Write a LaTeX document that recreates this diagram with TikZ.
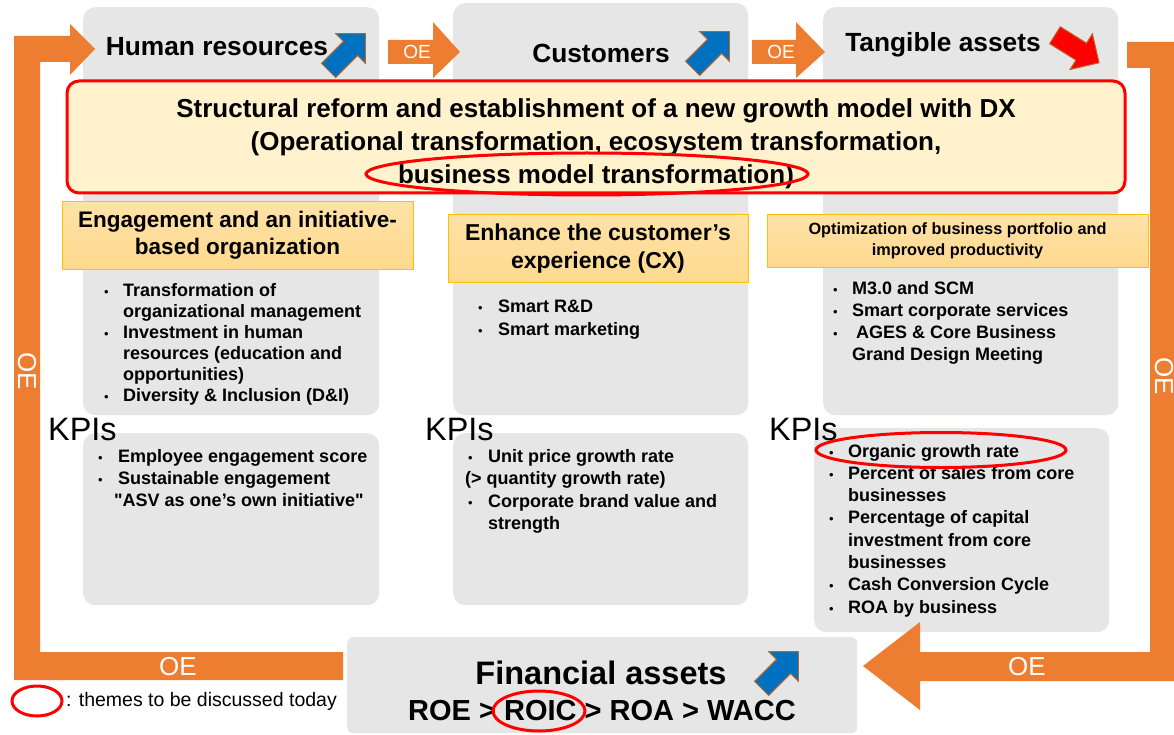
\documentclass[tikz,border=0pt]{standalone}
\usepackage{fontspec}
\setmainfont{Liberation Sans}
\usetikzlibrary{shapes.geometric}
\definecolor{oeorange}{HTML}{ED7D31}
\definecolor{panelgray}{HTML}{E6E6E6}
\definecolor{themebeige}{HTML}{FFF2CC}
\definecolor{headgold}{HTML}{FFC000}
\definecolor{headfill}{HTML}{FFD98E}
\definecolor{headtop}{HTML}{FFE2A8}
\definecolor{upblue}{HTML}{0070C0}
\definecolor{edgebrown}{HTML}{B8652A}
\definecolor{markred}{HTML}{FF0000}

\tikzset{
  panel/.style={fill=panelgray, rounded corners=12pt, draw=none, anchor=north west, inner sep=0pt},
  headbox/.style={draw=headgold, line width=1pt, top color=headtop, bottom color=headfill,
                  align=center, inner sep=0pt, font=\bfseries},
  title/.style={font=\bfseries\fontsize{26.3}{30}\selectfont, inner sep=0pt},
  kpi/.style={font=\fontsize{32.4}{32}\selectfont, anchor=base west, inner sep=0pt},
  blist/.style={anchor=base west, inner sep=0pt, align=left},
  oelabel/.style={text=white, font=\fontsize{19}{19}\selectfont, inner sep=0pt},
  ring/.style={ellipse, draw=markred, line width=3pt, inner sep=0pt},
  loop/.style={fill=oeorange, draw=none},
  blockarrow/.pic={\path[pic actions] (-26,-10) -- (5,-10) -- (5,-21) -- (26,0) -- (5,21) -- (5,10) -- (-26,10) -- cycle;},
}
% small light bullet for the lists
\newcommand{\bul}{{\mdseries\fontsize{13}{13}\selectfont\textbullet}}
% straight quotes, without the TeX quote mapping
\newcommand{\straightq}[1]{{\addfontfeatures{Ligatures=TeXOff}"#1"}}

\begin{document}
\begin{tikzpicture}[x=1pt,y=-1pt]
\useasboundingbox (0,0) rectangle (1174,735);
\fill[white] (0,0) rectangle (1174,735);

% grey panels of the three columns
\node[panel, minimum width=296pt, minimum height=408pt] (hrpanel) at (83,7) {};
\node[panel, minimum width=295pt, minimum height=412pt] (cxpanel) at (453,3) {};
\node[panel, minimum width=295pt, minimum height=408pt] (tapanel) at (823,7) {};
\node[panel, minimum width=296pt, minimum height=172pt] (hrkpi) at (83,433) {};
\node[panel, minimum width=295pt, minimum height=172pt] (cxkpi) at (453,433) {};
\node[panel, minimum width=295pt, minimum height=204pt] (takpi) at (814,428) {};
\node[panel, minimum width=510pt, minimum height=96pt, rounded corners=6pt] (finpanel) at (347,637) {};

% left feedback loop
\path[loop] (343,680) -- (14,680) -- (14,36) -- (70,36) -- (70,24) -- (95,49)
  -- (70,75) -- (70,62) -- (40,62) -- (40,652) -- (343,652) -- cycle;
% right feedback loop
\path[loop] (1127,42) -- (1174,42) -- (1174,681) -- (920,681) -- (920,710)
  -- (863,666) -- (920,622) -- (920,652) -- (1150,652) -- (1150,68) -- (1127,68) -- cycle;
% arrows between the columns
\path[loop] (388,40) -- (433,40) -- (433,22) -- (460,52) -- (433,78) -- (433,64) -- (388,64) -- cycle;
\path[loop] (752,40) -- (796,40) -- (796,22) -- (825,52) -- (796,78) -- (796,64) -- (752,64) -- cycle;

\node[oelabel] (oe1) at (417,52) {OE};
\node[oelabel] (oe2) at (781,52) {OE};
\node[oelabel, rotate=-90, font=\fontsize{26}{26}\selectfont] (oe3) at (27,371) {OE};
\node[oelabel, rotate=-90, font=\fontsize{26}{26}\selectfont] (oe4) at (1164,376) {OE};
\node[oelabel, font=\fontsize{26}{26}\selectfont] (oe5) at (178,667) {OE};
\node[oelabel, font=\fontsize{26}{26}\selectfont] (oe6) at (1027,667) {OE};

% column titles and trend arrows
\node[title] (hrtitle) at (217,47) {Human resources};
\node[title] (cxtitle) at (601,53) {Customers};
\node[title] (tatitle) at (943,45) {Tangible assets};
\pic[fill=upblue, draw=edgebrown, line width=1pt, rotate=45] at (347,52) {blockarrow};
\pic[fill=upblue, draw=edgebrown, line width=1pt, rotate=45] at (711,50) {blockarrow};
\pic[fill=markred, draw=edgebrown, line width=1pt, rotate=-32] at (1077,49) {blockarrow};

% common theme banner
\node[draw=markred, line width=3pt, fill=themebeige, rounded corners=12pt,
      minimum width=1058pt, minimum height=112pt, inner sep=0pt] (banner) at (596,137) {};
\node[font=\bfseries\fontsize{26}{33}\selectfont, align=center, inner sep=0pt] (bannertext) at (596,144)
  {Structural reform and establishment of a new growth model with DX\\
   (Operational transformation, ecosystem transformation,\\
   business model transformation)};
\node[ring, minimum width=442pt, minimum height=42pt] (ringbm) at (587,174) {};

% column headings
\node[headbox, minimum width=351pt, minimum height=67pt, font=\bfseries\fontsize{22.5}{27}\selectfont] (hrhead) at (237.5,235.5)
  {Engagement and an initiative-\\based organization};
\node[headbox, minimum width=300pt, minimum height=67pt, font=\bfseries\fontsize{23}{28}\selectfont] (cxhead) at (598,248.5)
  {Enhance the customer’s\\experience (CX)};
\node[headbox, minimum width=381pt, minimum height=52pt, font=\bfseries\fontsize{16.3}{21}\selectfont] (tahead) at (957.5,241)
  {Optimization of business portfolio and\\improved productivity};

% initiatives
\node[blist, font=\bfseries\fontsize{18}{21}\selectfont] (hrlist) at (104,296)
  {\begin{tabular}[t]{@{}p{19pt}@{}l@{}}
   \bul & Transformation of\\
        & organizational management\\
   \bul & Investment in human\\
        & resources (education and\\
        & opportunities)\\
   \bul & Diversity \& Inclusion (D\&I)
   \end{tabular}};
\node[blist, font=\bfseries\fontsize{18}{23}\selectfont] (cxlist) at (478,312)
  {\begin{tabular}[t]{@{}p{20pt}@{}l@{}}
   \bul & Smart R\&D\\
   \bul & Smart marketing
   \end{tabular}};
\node[blist, font=\bfseries\fontsize{18}{22.3}\selectfont] (talist) at (833,294)
  {\begin{tabular}[t]{@{}p{19pt}@{}l@{}}
   \bul & M3.0 and SCM\\
   \bul & Smart corporate services\\
   \bul & \hspace{4pt}AGES \& Core Business\\
        & Grand Design Meeting
   \end{tabular}};

% KPI panels
\node[kpi] (hrkpis) at (48,440) {KPIs};
\node[kpi] (cxkpis) at (425,440) {KPIs};
\node[kpi] (takpis) at (769,440) {KPIs};
\node[blist, font=\bfseries\fontsize{18}{22}\selectfont] (hrkpilist) at (98,462)
  {\begin{tabular}[t]{@{}p{20pt}@{}l@{}}
   \bul & Employee engagement score\\
   \bul & Sustainable engagement\\
   \multicolumn{2}{@{}l@{}}{\hspace{16pt}\straightq{ASV as one’s own initiative}}
   \end{tabular}};
\node[blist, font=\bfseries\fontsize{18}{22.5}\selectfont] (cxkpilist) at (468,462)
  {\begin{tabular}[t]{@{}p{20pt}@{}l@{}}
   \bul & Unit price growth rate\\
   \multicolumn{2}{@{}l@{}}{\hspace{-3pt}(> quantity growth rate)}\\
   \bul & Corporate brand value and\\
        & strength
   \end{tabular}};
\node[blist, font=\bfseries\fontsize{18}{22.3}\selectfont] (takpilist) at (829,457)
  {\begin{tabular}[t]{@{}p{19pt}@{}l@{}}
   \bul & Organic growth rate\\
   \bul & Percent of sales from core\\
        & businesses\\
   \bul & Percentage of capital\\
        & investment from core\\
        & businesses\\
   \bul & Cash Conversion Cycle\\
   \bul & ROA by business
   \end{tabular}};
\node[ring, minimum width=250pt, minimum height=35pt] (ringorg) at (941,450) {};

% financial assets
\node[font=\bfseries\fontsize{32.5}{32}\selectfont, inner sep=0pt] (fintitle) at (601,673) {Financial assets};
\node[font=\bfseries\fontsize{29}{29}\selectfont, inner sep=0pt] (finratios) at (602,711) {ROE > ROIC > ROA > WACC};
\pic[fill=upblue, draw=edgebrown, line width=1pt, rotate=45] at (780,670) {blockarrow};
\node[ring, minimum width=92pt, minimum height=40pt] (ringroic) at (539,711) {};

% legend
\node[ring, minimum width=50pt, minimum height=30pt] (legring) at (37,701) {};
\node[anchor=west, inner sep=0pt, font=\fontsize{19.5}{19.5}\selectfont] (legtext) at (66,701) {: themes to be discussed today};
\end{tikzpicture}
\end{document}
